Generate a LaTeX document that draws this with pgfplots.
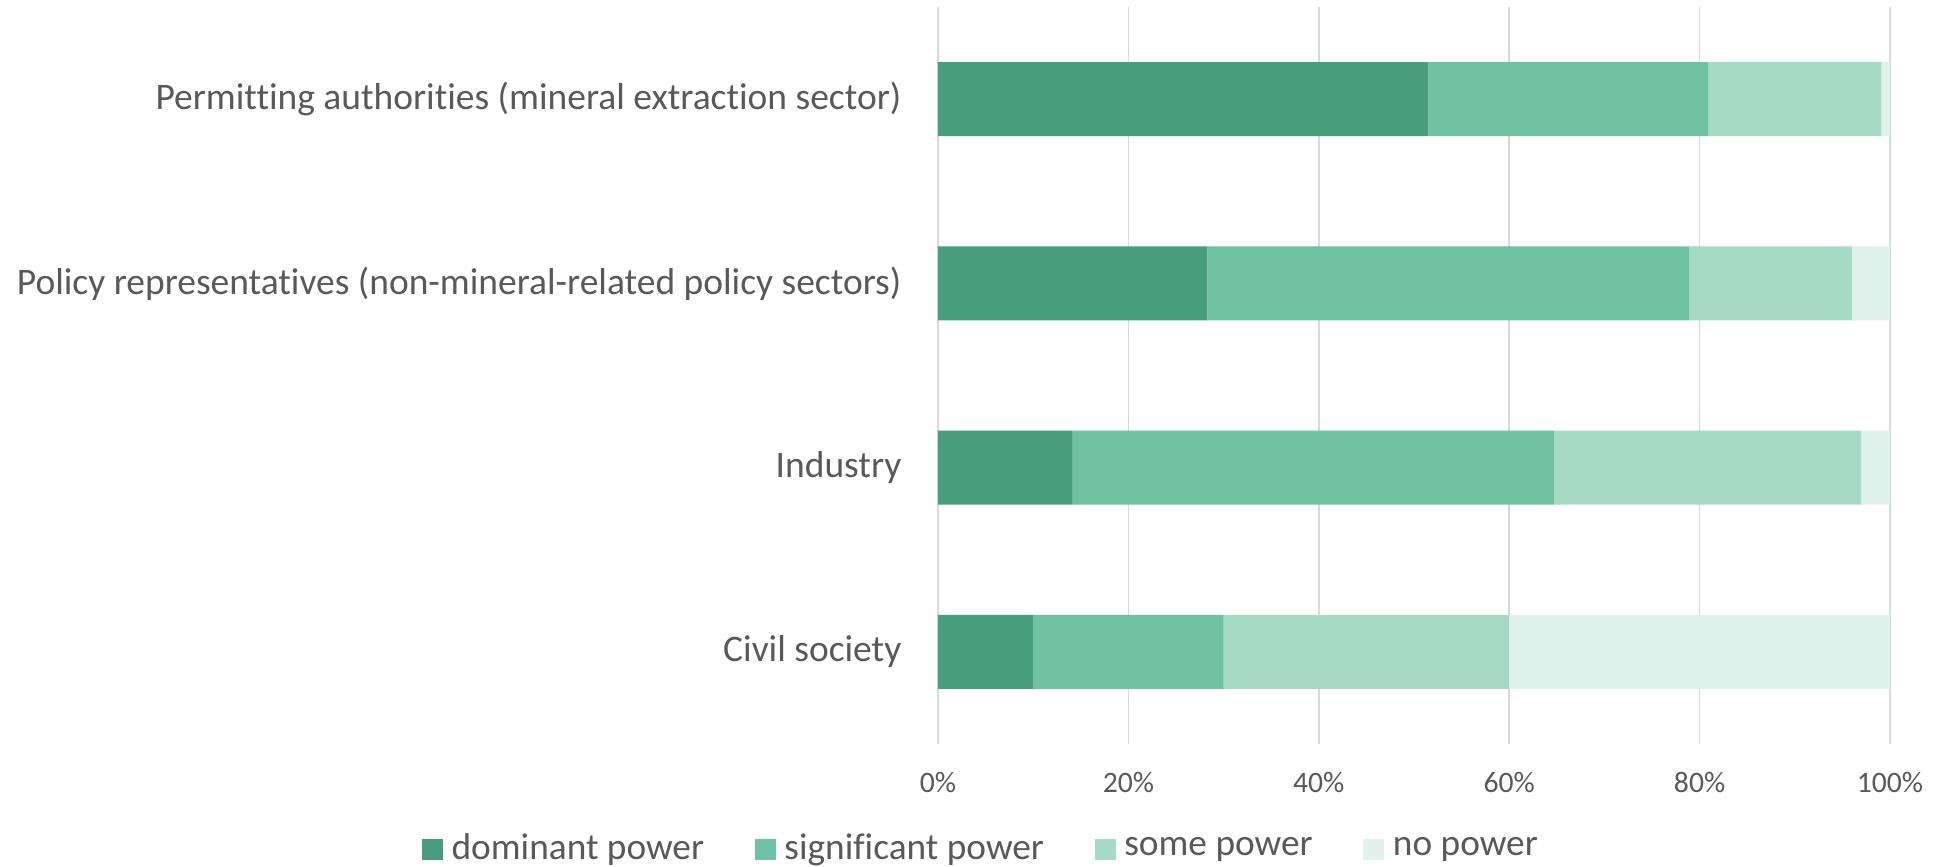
\documentclass[border=0pt]{standalone}
\usepackage{fontspec}
\setmainfont[Ligatures=NoCommon]{Carlito}
\usepackage{pgfplots}
\usepackage{pgfplotstable}
\pgfplotsset{compat=1.18}

\definecolor{cDom}{HTML}{469E7E}
\definecolor{cSig}{HTML}{6FC1A3}
\definecolor{cSome}{HTML}{A7D9C7}
\definecolor{cNo}{HTML}{E1F2EC}
\definecolor{txtgray}{HTML}{595959}
\definecolor{gridgray}{HTML}{D9D9D9}

% shares of respondents, in percent
\pgfplotstableread{
y dominant significant some none
0 51.5 29.4 18.2 0.9
1 28.3 50.6 17.1 4.0
2 14.1 50.6 32.3 3.0
3 10.0 20.0 30.0 40.0
}\powerdata

\begin{document}
\begin{tikzpicture}
\useasboundingbox (-281.4pt,-36.6pt) rectangle (298.8pt,223.2pt);
\begin{axis}[
    at={(0,0)}, anchor=south west,
    scale only axis,
    width=285.6pt, height=221.1pt,
    xbar stacked,
    bar width=22.2pt,
    y dir=reverse,
    ymin=-0.5, ymax=3.5,
    xmin=0, xmax=100,
    xtick={0,20,...,100},
    xticklabel={\pgfmathprintnumber{\tick}\%},
    ytick={0,1,2,3},
    yticklabels={Permitting authorities (mineral extraction sector),
                 Policy representatives (non-mineral-related policy sectors),
                 Industry, Civil society},
    axis line style={draw=none},
    major tick length=0pt,
    xmajorgrids,
    major grid style={draw=gridgray, line width=0.5pt},
    /pgf/number format/assume math mode=true,
    xticklabel style={font=\fontsize{8.9}{10}\selectfont, text=txtgray,
        anchor=base, inner sep=0pt, yshift=-14.6pt},
    yticklabel style={font=\fontsize{11.25}{13}\selectfont, text=txtgray,
        anchor=east, inner sep=0pt, xshift=-10.8pt},
    legend columns=4,
    legend style={at={(0.044,-0.1425)}, anchor=center, draw=none,
        font=\fontsize{11.2}{13}\selectfont, text=txtgray,
        nodes={inner sep=0pt},
        /tikz/every odd column/.append style={column sep=2.6pt},
        /tikz/every even column/.append style={column sep=15.2pt}},
    legend image code/.code={\fill[#1] (0pt,-3.15pt) rectangle (6.3pt,3.15pt);},
]
\addplot[fill=cDom, draw=none] table[x=dominant, y=y] {\powerdata};
\addplot[fill=cSig, draw=none] table[x=significant, y=y] {\powerdata};
\addplot[fill=cSome, draw=none] table[x=some, y=y] {\powerdata};
\addplot[fill=cNo, draw=none] table[x=none, y=y] {\powerdata};
\legend{dominant power, significant power, some power, no power}
\end{axis}
\end{tikzpicture}
\end{document}
